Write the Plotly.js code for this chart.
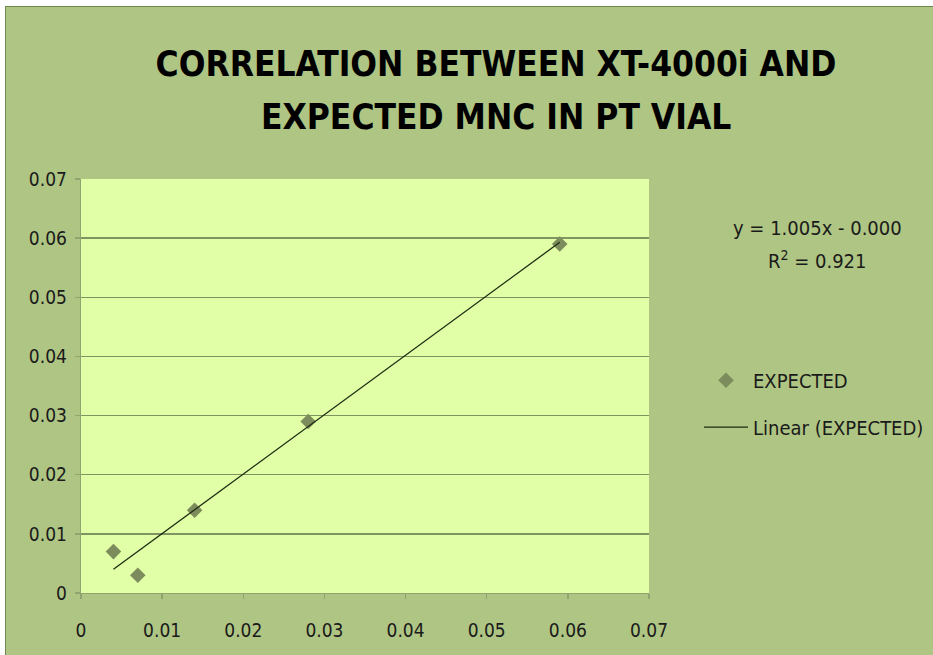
<!DOCTYPE html>
<html>
<head>
<meta charset="utf-8">
<script src="https://cdn.plot.ly/plotly-3.0.1.min.js"></script>
<style>
  html, body { margin: 0; padding: 0; background: #ffffff; width: 933px; height: 655px; overflow: hidden; }
  #frame { position: absolute; left: 5px; top: 6px; width: 928px; height: 649px;
           border-left: 1.5px solid #6f8a4f; border-top: 1.5px solid #6f8a4f; background: #afc584; }
  #chart { position: absolute; left: 0.5px; top: 0.5px; width: 927px; height: 648px; }
</style>
</head>
<body>
<div id="frame"><div id="chart"></div></div>
<script>
// Data
const xt4000i = [0.004, 0.007, 0.014, 0.028, 0.059];
const expected = [0.007, 0.003, 0.014, 0.029, 0.059];
// Displayed trendline equation
const trendSlope = 1.005;
const trendIntercept = 0.000;
const trendR2 = 0.921;
const tickVals = [0, 0.01, 0.02, 0.03, 0.04, 0.05, 0.06, 0.07];
const tickText = ['0', '0.01', '0.02', '0.03', '0.04', '0.05', '0.06', '0.07'];
const titleLines = ['CORRELATION BETWEEN XT-4000i AND', 'EXPECTED MNC IN PT VIAL'];

const xMin = Math.min(...xt4000i), xMax = Math.max(...xt4000i);
const trendX = [xMin, xMax];
const trendY = trendX.map(v => trendSlope * v + trendIntercept);

const fam = '"DejaVu Sans Condensed", "DejaVu Sans", sans-serif';
const f = (size, color) => ({ family: fam, size: size, color: color });

const traces = [
  { x: xt4000i, y: expected, type: 'scatter', mode: 'markers', name: 'EXPECTED', legendgroup: 'a',
    marker: { symbol: 'diamond', size: 12, color: '#7d8c5c' } },
  { x: trendX, y: trendY, type: 'scatter', mode: 'lines', name: 'Linear (EXPECTED)', legendgroup: 'b',
    line: { color: '#1e2a12', width: 1.3 } }
];

const axisCommon = {
  range: [0, 0.07], tickvals: tickVals, ticktext: tickText,
  showgrid: true, gridcolor: '#7f9460', gridwidth: 1.3,
  zeroline: false, showline: true, linecolor: '#8fa46e', linewidth: 1.3,
  ticks: 'outside', ticklen: 5, tickcolor: '#8fa46e', tickwidth: 1.3,
  tickfont: f(19, '#1a1a1a'), fixedrange: true
};

const layout = {
  width: 927, height: 648,
  paper_bgcolor: '#afc584', plot_bgcolor: '#e0ffa6',
  margin: { l: 74, r: 285, t: 171, b: 63 },
  title: { text: '<b>' + titleLines[0] + '</b>',
           font: f(35, '#000000'),
           xref: 'container', yref: 'container',
           x: 0.5275, xanchor: 'center', y: 0.9136, yanchor: 'middle' },
  xaxis: Object.assign({}, axisCommon, { showgrid: false, ticklabelstandoff: 15 }),
  yaxis: Object.assign({}, axisCommon, { ticklabelstandoff: 4 }),
  showlegend: true,
  legend: { xref: 'container', yref: 'container', x: 0.7465, y: 0.4557,
            xanchor: 'left', yanchor: 'top', bgcolor: 'rgba(0,0,0,0)', itemwidth: 44,
            font: f(20, '#1a1a1a'), tracegroupgap: 18 },
  annotations: [
    { xref: 'paper', yref: 'paper', x: 0.7306, y: 1.1498, xanchor: 'center', yanchor: 'middle',
      showarrow: false, text: '<b>' + titleLines[1] + '</b>', font: f(35, '#000000') },
    { xref: 'paper', yref: 'paper', x: 1.297, y: 0.8816, xanchor: 'center', yanchor: 'middle',
      showarrow: false,
      text: 'y = ' + trendSlope.toFixed(3) + 'x - ' + Math.abs(trendIntercept).toFixed(3),
      font: f(20, '#1a1a1a') },
    { xref: 'paper', yref: 'paper', x: 1.297, y: 0.8043, xanchor: 'center', yanchor: 'middle',
      showarrow: false,
      text: 'R<sup>2</sup> = ' + trendR2.toFixed(3),
      font: f(20, '#1a1a1a') }
  ]
};

Plotly.newPlot('chart', traces, layout, { displayModeBar: false, staticPlot: true });
</script>
</body>
</html>
